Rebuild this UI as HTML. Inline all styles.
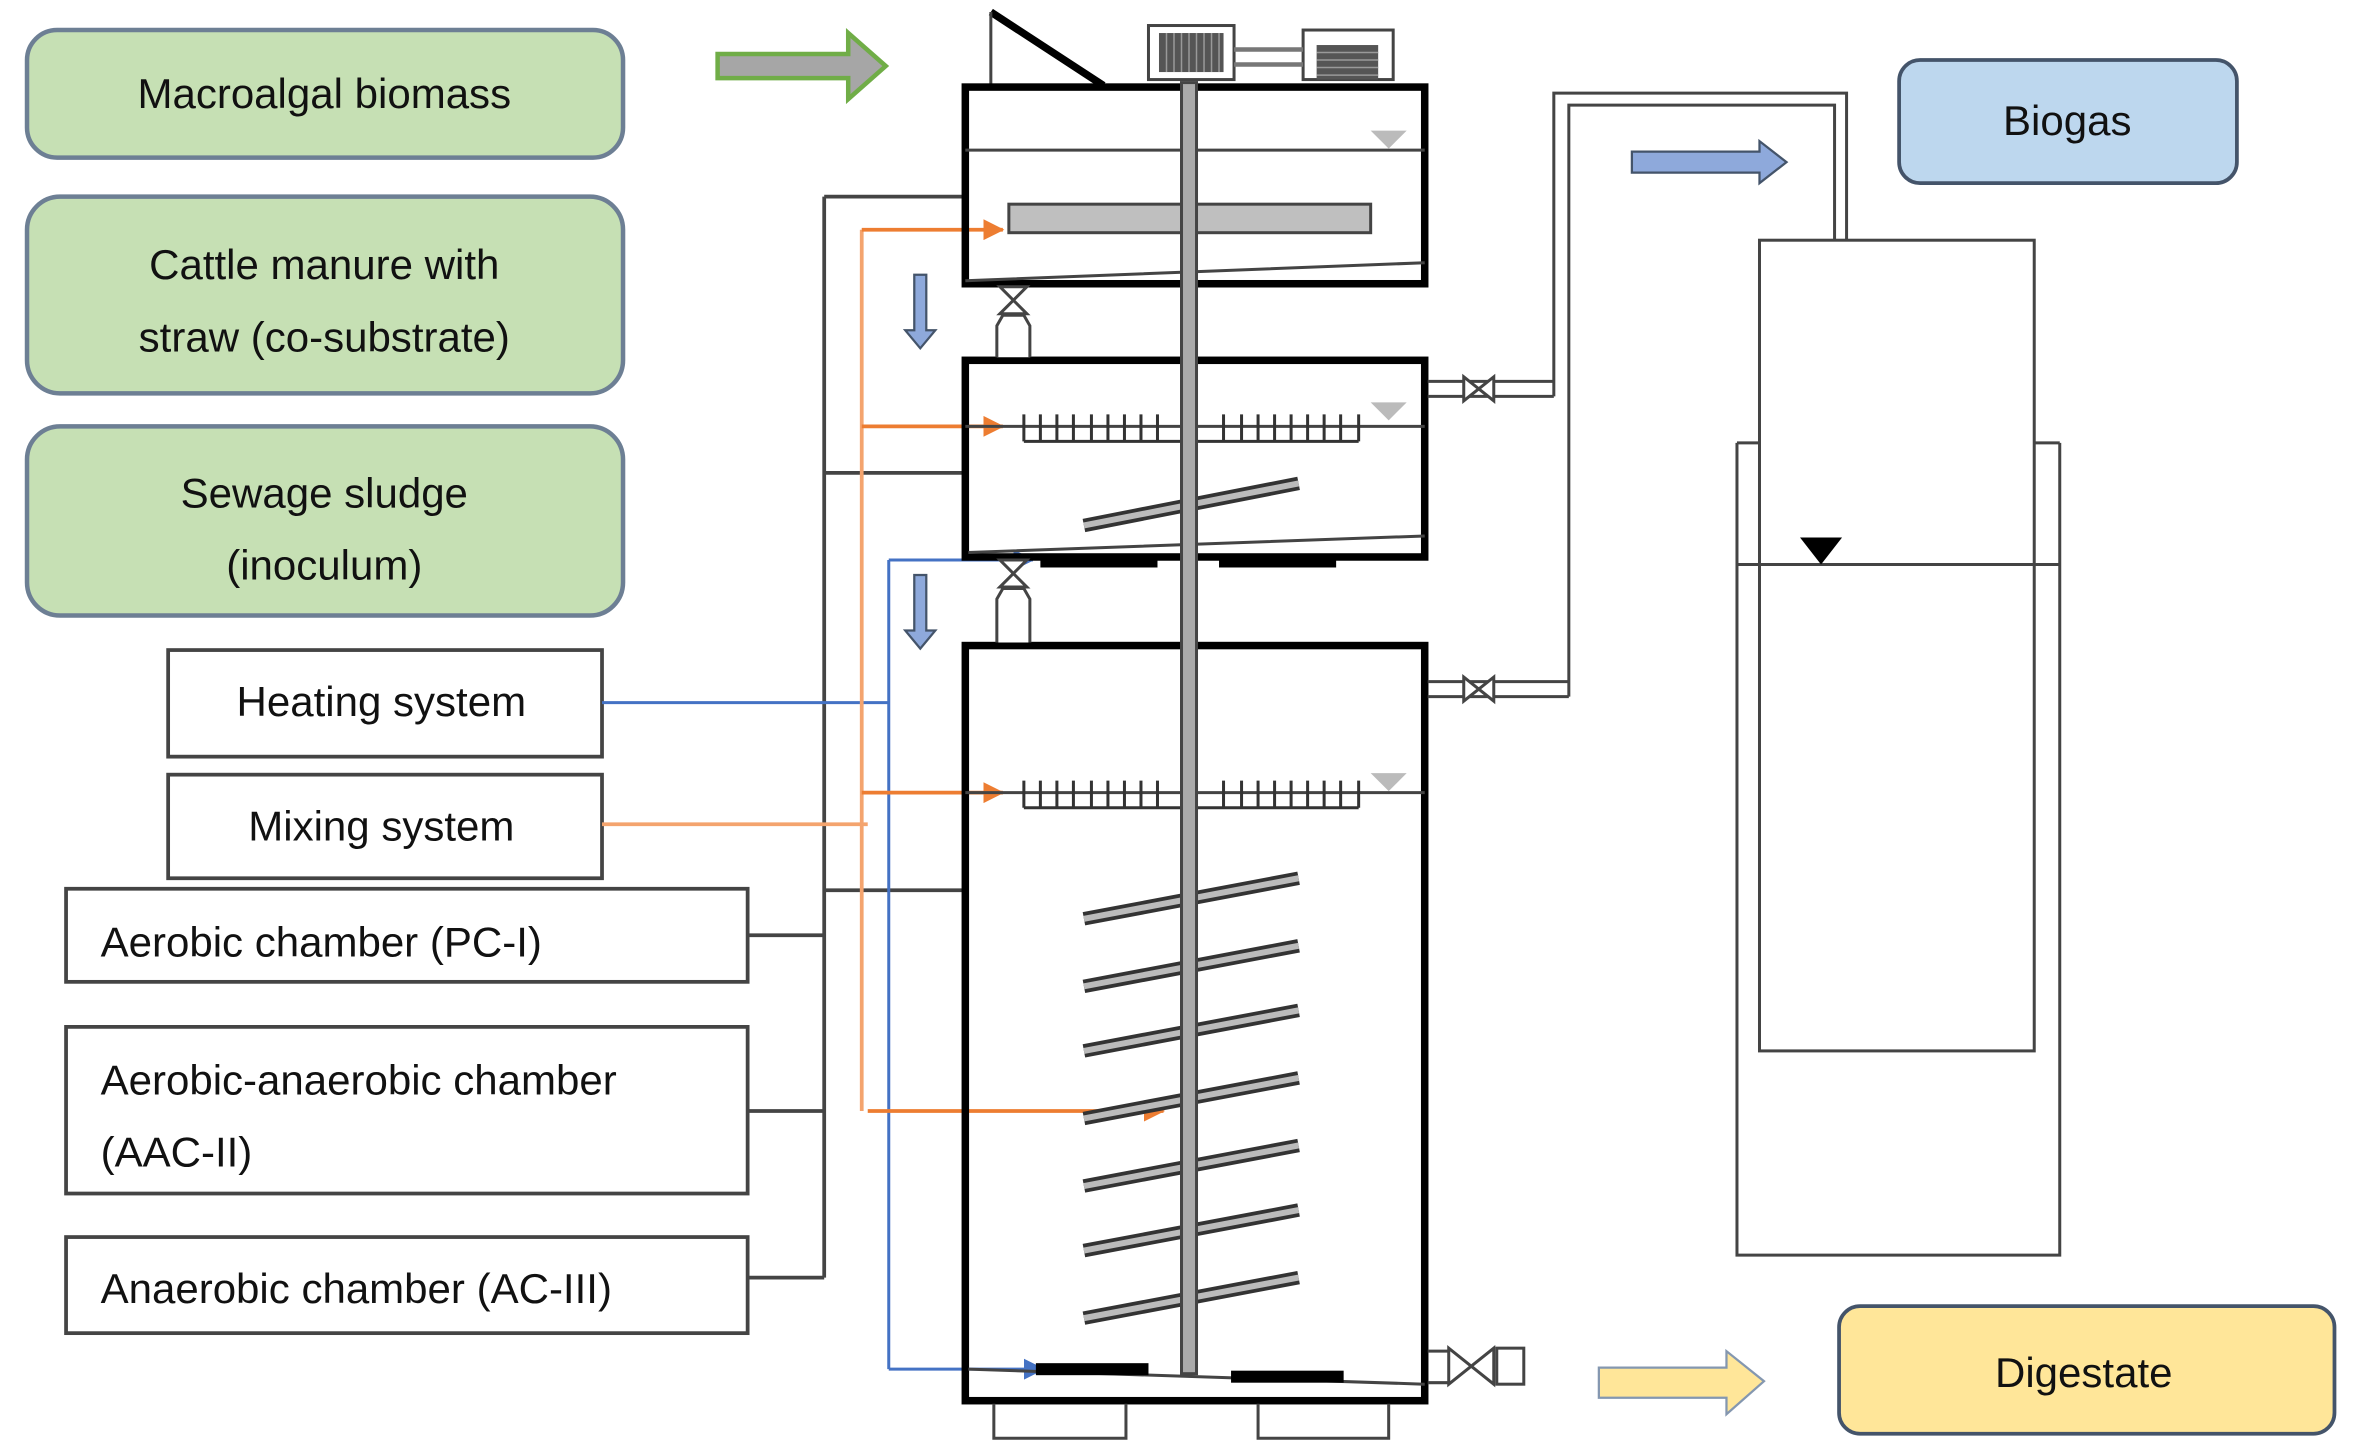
<!DOCTYPE html>
<html><head><meta charset="utf-8"><style>html,body{margin:0;padding:0;background:#fff;}svg{display:block}</style></head>
<body>
<svg width="2354" height="1454" viewBox="0 0 1568 968.5" preserveAspectRatio="none" xmlns="http://www.w3.org/2000/svg" font-family="Liberation Sans, sans-serif">
<defs>
<marker id="ao" markerWidth="14" markerHeight="14" refX="13" refY="7" orient="auto" markerUnits="userSpaceOnUse"><path d="M0,0 L14,7 L0,14 z" fill="#ed7d31"/></marker>
<marker id="ab" markerWidth="14" markerHeight="14" refX="13" refY="7" orient="auto" markerUnits="userSpaceOnUse"><path d="M0,0 L14,7 L0,14 z" fill="#4472c4"/></marker>
</defs>
<g stroke="#6d7f94" stroke-width="3" fill="#c6e0b4">
<rect x="18" y="20" width="397" height="85" rx="20"/>
<rect x="18" y="131" width="397" height="131" rx="22"/>
<rect x="18" y="284" width="397" height="126" rx="22"/>
</g>
<g font-size="28" fill="#111" text-anchor="middle">
<text x="216" y="72">Macroalgal biomass</text>
<text x="216" y="186">Cattle manure with</text>
<text x="216" y="234">straw (co-substrate)</text>
<text x="216" y="338">Sewage sludge</text>
<text x="216" y="386">(inoculum)</text>
</g>
<g stroke="#444" stroke-width="2.5" fill="#fff">
<rect x="112" y="433" width="289" height="71"/>
<rect x="112" y="516" width="289" height="69"/>
<rect x="44" y="592" width="454" height="62"/>
<rect x="44" y="684" width="454" height="111"/>
<rect x="44" y="824" width="454" height="64"/>
</g>
<g font-size="28" fill="#111">
<text x="254" y="477" text-anchor="middle">Heating system</text>
<text x="254" y="560" text-anchor="middle">Mixing system</text>
<text x="67" y="637">Aerobic chamber (PC-I)</text>
<text x="67" y="729">Aerobic-anaerobic chamber</text>
<text x="67" y="777">(AAC-II)</text>
<text x="67" y="868">Anaerobic chamber (AC-III)</text>
</g>
<g stroke="#444" stroke-width="2.5" fill="none">
<path d="M549,131 V851 M549,131 H641 M549,315 H641 M549,593 H641 M498,623 H549 M498,740 H549 M498,851 H549"/>
</g>
<g stroke="#4472c4" stroke-width="2" fill="none">
<path d="M401,468 H592 M592,373 V912"/>
<path d="M592,373 H688" marker-end="url(#ab)"/>
<path d="M592,912 H695" marker-end="url(#ab)"/>
</g>
<g stroke="#f4a46e" stroke-width="2.5" fill="none">
<path d="M401,549 H578 M574,153 V740"/>
<path d="M574,153 H668" stroke="#ed7d31" marker-end="url(#ao)"/>
<path d="M574,284 H668" stroke="#ed7d31" marker-end="url(#ao)"/>
<path d="M574,528 H668" stroke="#ed7d31" marker-end="url(#ao)"/>
<path d="M578,740 H775" stroke="#ed7d31" marker-end="url(#ao)"/>
</g>
<path d="M478,36 H565 V22 L590,44 L565,66 V52 H478 Z" fill="#a6a6a6" stroke="#70ad47" stroke-width="3"/>
<g fill="#8ea9db" stroke="#44546a" stroke-width="1.5">
<path d="M609,183 H617 V220 H623 L613,232 L603,220 H609 Z"/>
<path d="M609,383 H617 V420 H623 L613,432 L603,420 H609 Z"/>
</g>
<path d="M660,8 L735,57" stroke="#000" stroke-width="5"/>
<path d="M660,8 V57" stroke="#444" stroke-width="2"/>
<rect x="765" y="17" width="57" height="36" fill="#fff" stroke="#444" stroke-width="2"/>
<rect x="772" y="22" width="43" height="26" fill="#555"/>
<g stroke="#999" stroke-width="1"><path d="M777,22V48M782,22V48M787,22V48M792,22V48M797,22V48M802,22V48M807,22V48M812,22V48"/></g>
<rect x="868" y="20" width="60" height="33" fill="#fff" stroke="#444" stroke-width="2"/>
<rect x="877" y="30" width="41" height="23" fill="#555"/>
<g stroke="#999" stroke-width="1"><path d="M877,35H918M877,40H918M877,45H918M877,50H918"/></g>
<path d="M822,33H868 M822,43H868" stroke="#777" stroke-width="3"/>
<g fill="none" stroke="#000" stroke-width="5">
<rect x="643" y="58" width="306" height="131"/>
<rect x="643" y="240" width="306" height="131"/>
<rect x="643" y="430" width="306" height="503"/>
</g>
<g stroke="#444" stroke-width="2" fill="none">
<path d="M643,100 H949 M643,187 L949,175"/>
<path d="M643,284 H949 M645,368 L949,357"/>
<path d="M643,528 H949 M645,912 L949,922"/>
</g>
<g fill="#bbb"><path d="M913,87 H937 L925,99 Z"/><path d="M913,268 H937 L925,280 Z"/><path d="M913,515 H937 L925,527 Z"/></g>
<rect x="672" y="136" width="241" height="19" fill="#bfbfbf" stroke="#444" stroke-width="2"/>
<g stroke="#333" stroke-width="2" fill="none">
<path d="M682,294 H905 M682,276V294 M693,276V294 M704,276V294 M715,276V294 M727,276V294 M738,276V294 M749,276V294 M760,276V294 M771,276V294 M815,276V294 M827,276V294 M838,276V294 M849,276V294 M860,276V294 M871,276V294 M882,276V294 M893,276V294 M905,276V294"/>
<path d="M682,538 H905 M682,520V538 M693,520V538 M704,520V538 M715,520V538 M727,520V538 M738,520V538 M749,520V538 M760,520V538 M771,520V538 M815,520V538 M827,520V538 M838,520V538 M849,520V538 M860,520V538 M871,520V538 M882,520V538 M893,520V538 M905,520V538"/>
</g>
<g stroke="#333" stroke-width="9"><path d="M722,350 L865,322"/><path d="M722,612 L865,585"/><path d="M722,657 L865,630"/><path d="M722,700 L865,673"/><path d="M722,745 L865,718"/><path d="M722,790 L865,763"/><path d="M722,833 L865,806"/><path d="M722,878 L865,851"/></g>
<g stroke="#bbb" stroke-width="4"><path d="M722,350 L865,322"/><path d="M722,612 L865,585"/><path d="M722,657 L865,630"/><path d="M722,700 L865,673"/><path d="M722,745 L865,718"/><path d="M722,790 L865,763"/><path d="M722,833 L865,806"/><path d="M722,878 L865,851"/></g>
<rect x="787" y="55" width="10" height="860" fill="#aaa" stroke="#444" stroke-width="2"/>
<g fill="#000"><rect x="693" y="370" width="78" height="8"/><rect x="812" y="370" width="78" height="8"/><rect x="690" y="908" width="75" height="8"/><rect x="820" y="913" width="75" height="8"/></g>
<g stroke="#444" stroke-width="2" fill="#fff">
<path d="M666,191 L684,209 L666,209 L684,191 Z"/><path d="M664,238 V217 L668,210 H682 L686,217 V238"/>
<path d="M666,373 L684,391 L666,391 L684,373 Z"/><path d="M664,428 V399 L668,392 H682 L686,399 V428"/>
</g>
<g fill="none" stroke="#444" stroke-width="2"><path d="M662,935V958H750V935 M838,935V958H925V935"/></g>
<g stroke="#444" stroke-width="2" fill="#fff"><path d="M951,900 H965 M951,921 H965"/><path d="M965,898 L995,922 L995,898 L965,922 Z"/><rect x="997" y="898" width="18" height="24"/></g>
<g stroke="#444" stroke-width="2" fill="none">
<path d="M951,254H1035 M951,264H1035"/><path d="M951,454H1045 M951,464H1045"/>
<path d="M1035,264 V62 H1230 V160 M1045,464 V70 H1222 V160"/>
</g>
<g stroke="#444" stroke-width="2" fill="#fff"><path d="M975,251 L995,267 L995,251 L975,267 Z"/><path d="M975,451 L995,467 L995,451 L975,467 Z"/></g>
<path d="M1087,101 H1172 V94 L1190,108 L1172,122 V115 H1087 Z" fill="#8ea9db" stroke="#44546a" stroke-width="1.5"/>
<rect x="1265" y="40" width="225" height="82" rx="14" fill="#bdd7ee" stroke="#44546a" stroke-width="2.5"/>
<text x="1377" y="90" font-size="28" text-anchor="middle" fill="#111">Biogas</text>
<g stroke="#444" stroke-width="2" fill="none">
<path d="M1157,295 H1172 M1355,295 H1372 M1157,295 V836 H1372 V295"/>
<rect x="1172" y="160" width="183" height="540"/>
<path d="M1157,376 H1372"/>
</g>
<path d="M1199,358 H1227 L1213,376 Z" fill="#000"/>
<path d="M1065,911 H1150 V900 L1175,920 L1150,942 V931 H1065 Z" fill="#ffe699" stroke="#8497b0" stroke-width="1.5"/>
<rect x="1225" y="870" width="330" height="85" rx="14" fill="#ffe699" stroke="#44546a" stroke-width="2.5"/>
<text x="1388" y="924" font-size="28" text-anchor="middle" fill="#111">Digestate</text>
</svg>
</body></html>
